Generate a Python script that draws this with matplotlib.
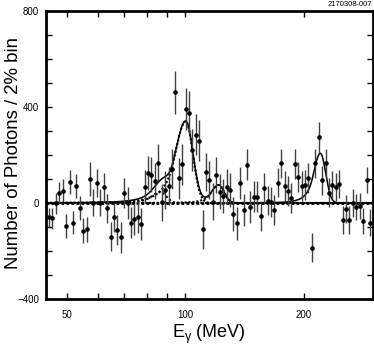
import numpy as np
import matplotlib
matplotlib.use('Agg')
import matplotlib.pyplot as plt
from matplotlib.ticker import FixedLocator, FixedFormatter, NullFormatter, MultipleLocator

plt.rcParams['font.family'] = ['Liberation Sans', 'DejaVu Sans']
plt.rcParams['mathtext.fontset'] = 'custom'
plt.rcParams['mathtext.rm'] = 'Liberation Sans'

# photon spectrum, 2% bins in E_gamma
e_first = 45.0
bin_ratio = 1.0202
counts = [-60, -64, -2, 43, 52, -96, 87, -82, 71, -20,
          -115, -110, 99, 2, 82, 2, 65, -22, -140, -60,
          -112, -143, 42, 0, -82, -68, -58, -88, 68, 125,
          118, 92, 166, 3, 53, 70, 142, 461, 103, 162,
          392, 377, 220, 285, 259, -110, 130, 96, 6, 115,
          47, 29, 68, 54, -46, -85, 84, -29, 160, -18,
          26, 26, -54, 61, 10, 4, -29, 85, 165, 71,
          50, 22, 161, 107, 71, 75, 104, -186, 165, 273,
          94, 165, 43, 75, 68, 79, -71, -26, -71, 1,
          -18, -12, -74, 96, -82]
errors = [40, 45, 45, 45, 48, 50, 50, 48, 50, 50,
          52, 52, 70, 55, 58, 58, 60, 60, 62, 62,
          62, 64, 64, 65, 66, 66, 68, 68, 70, 72,
          74, 75, 78, 78, 80, 80, 82, 88, 85, 85,
          88, 88, 88, 86, 85, 82, 80, 78, 76, 75,
          74, 72, 72, 70, 70, 68, 68, 66, 66, 66,
          64, 64, 64, 64, 62, 62, 62, 62, 62, 62,
          62, 62, 62, 62, 62, 62, 62, 60, 62, 65,
          62, 62, 60, 60, 58, 58, 58, 58, 58, 58,
          55, 55, 55, 55, 55]
e_gamma = e_first * bin_ratio ** np.arange(len(counts))

# fitted line shapes (crystal-ball like, low-energy tail)
peak_mean = [100.2, 86.5, 121.5, 220.5]
peak_height = [340, 45, 75, 207]
sigma_left = [6.0, 4.5, 5.0, 8.5]
sigma_right = [4.3, 3.0, 4.0, 7.0]
tail_alpha = 1.2
tail_n = 6.0


def line_shape(e, mu, h, sl, sr):
    t = np.where(e < mu, (e - mu) / sl, (e - mu) / sr)
    g = np.exp(-0.5 * t ** 2)
    a = tail_alpha
    tail = np.exp(-0.5 * a ** 2) * (1 - a * (a + t) / tail_n) ** (-tail_n)
    return h * np.where(t < -a, tail, g)


e_fine = np.geomspace(44.2, 300, 800)
comps = [line_shape(e_fine, peak_mean[i], peak_height[i], sigma_left[i], sigma_right[i])
         for i in range(4)]
total = comps[0] + comps[1] + comps[2] + comps[3]

fig = plt.figure(figsize=(3.74, 3.46), dpi=100)
ax = fig.add_axes([0.123, 0.136, 0.874, 0.832])

ax.axhline(0, color='black', lw=2.0, ls=(0, (1.0, 0.8)))
ax.plot(e_fine, comps[0], color='black', lw=1.5, ls=(0, (1.0, 0.9)))
ax.plot(e_fine, comps[1], color='black', lw=1.5, ls=(0, (1.0, 1.2)))
ax.plot(e_fine, comps[2], color='black', lw=1.5, ls=(0, (1.0, 0.9)))
ax.plot(e_fine, total, color='black', lw=1.1)
ax.errorbar(e_gamma, counts, yerr=errors, fmt='o', ms=2.3, color='black',
            ecolor='0.25', elinewidth=1.0, capsize=0)

ax.set_xscale('log')
ax.set_xlim(44.2, 300)
ax.set_ylim(-400, 800)

ax.xaxis.set_major_locator(FixedLocator([50, 100, 200]))
ax.xaxis.set_major_formatter(FixedFormatter(['50', '100', '200']))
ax.xaxis.set_minor_locator(FixedLocator([60, 70, 80, 90]))
ax.xaxis.set_minor_formatter(NullFormatter())
ax.yaxis.set_major_locator(MultipleLocator(400))
ax.yaxis.set_minor_locator(MultipleLocator(100))

ax.tick_params(which='both', direction='in', top=True, right=True,
               length=4, width=1, labelsize=7)
ax.tick_params(axis='x', pad=8)
ax.tick_params(axis='y', pad=5)
for s in ax.spines.values():
    s.set_linewidth(2)

ax.set_xlabel('E$_{\\mathrm{γ}}$ (MeV)', fontsize=13, labelpad=2)
ax.set_ylabel('Number of Photons / 2% bin', fontsize=13.4)
ax.yaxis.set_label_coords(-0.073, 0.507)
fig.text(0.995, 0.998, '2170308-007', fontsize=5.5, ha='right', va='top')

fig.savefig('out.png', dpi=100)
